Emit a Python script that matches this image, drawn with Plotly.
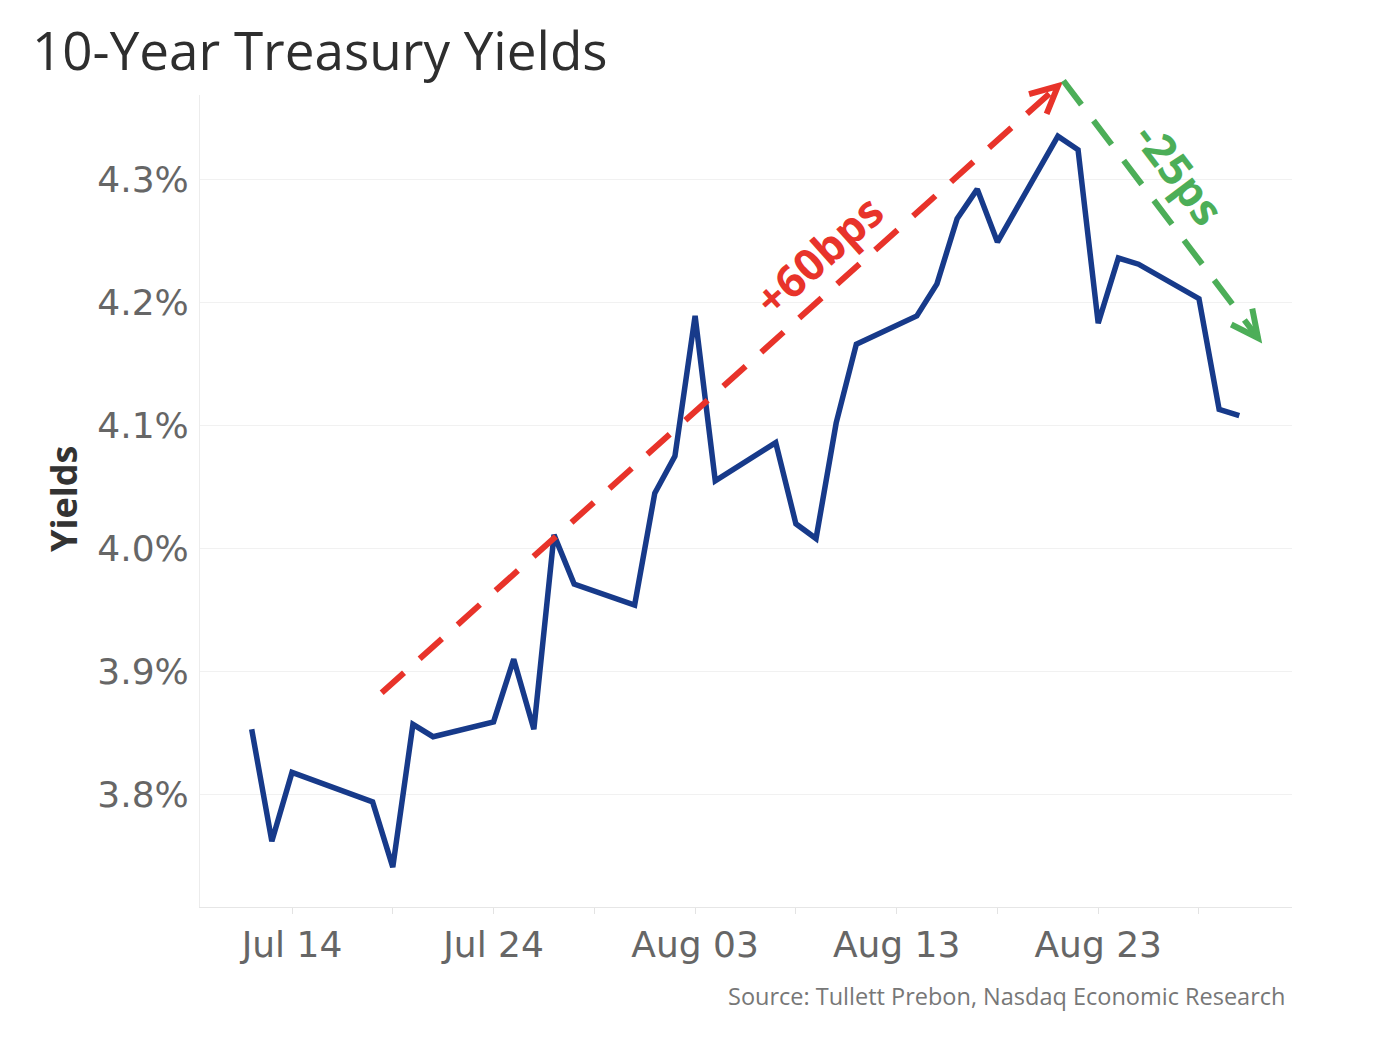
import math
import pandas as pd
import plotly.graph_objects as go

# ---------------- data ----------------
dates = ["2023-07-12", "2023-07-13", "2023-07-14", "2023-07-17", "2023-07-18", "2023-07-19",
         "2023-07-20", "2023-07-21", "2023-07-24", "2023-07-25", "2023-07-26", "2023-07-27",
         "2023-07-28", "2023-07-31", "2023-08-01", "2023-08-02", "2023-08-03", "2023-08-04",
         "2023-08-07", "2023-08-08", "2023-08-09", "2023-08-10", "2023-08-11", "2023-08-14",
         "2023-08-15", "2023-08-16", "2023-08-17", "2023-08-18", "2023-08-21", "2023-08-22",
         "2023-08-23", "2023-08-24", "2023-08-25", "2023-08-28", "2023-08-29", "2023-08-30"]
yields = [3.853, 3.762, 3.818, 3.800, 3.794, 3.741,
          3.857, 3.847, 3.859, 3.910, 3.853, 4.011,
          3.971, 3.954, 4.045, 4.075, 4.189, 4.055,
          4.086, 4.020, 4.008, 4.102, 4.166, 4.189,
          4.215, 4.268, 4.292, 4.249, 4.335, 4.324,
          4.183, 4.236, 4.231, 4.203, 4.113, 4.108]

x_tick_vals = ["2023-07-14", "2023-07-19", "2023-07-24", "2023-07-29", "2023-08-03",
               "2023-08-08", "2023-08-13", "2023-08-18", "2023-08-23", "2023-08-28"]
x_tick_text = ["Jul 14", "", "Jul 24", "", "Aug 03", "", "Aug 13", "", "Aug 23", ""]
y_tick_vals = [3.8, 3.9, 4.0, 4.1, 4.2, 4.3]
y_tick_text = ["3.8%", "3.9%", "4.0%", "4.1%", "4.2%", "4.3%"]

# annotation arrows (date, yield) start -> end
up_arrow = [("2023-07-18 10:48", 3.8827), ("2023-08-21 00:00", 4.3758)]
down_arrow = [("2023-08-21 06:30", 4.3801), ("2023-08-30 22:20", 4.171)]
up_label = ("+60bps", "2023-08-09 02:24", 4.2385)
down_label = ("-25ps", "2023-08-27 01:26", 4.3051)

# ---------------- layout geometry ----------------
W_FIG, H_FIG = 1390, 1054
ML, MR, MT, MB = 200, 98, 95, 147
PW, PH = W_FIG - ML - MR, H_FIG - MT - MB
X0, X1 = pd.Timestamp("2023-07-09 10:27"), pd.Timestamp("2023-09-01 14:46")
Y0, Y1 = 3.7086, 4.3685

RED = "#e8332a"
GREEN = "#4cae58"
BLUE = "#173a8a"


def to_px(d, v):
    t = pd.Timestamp(d)
    px = ML + (t - X0) / (X1 - X0) * PW
    py = MT + (Y1 - v) / (Y1 - Y0) * PH
    return px, py


def to_paper(px, py):
    return (px - ML) / PW, (MT + PH - py) / PH


fig = go.Figure()
fig.add_trace(go.Scatter(x=pd.to_datetime(dates), y=yields, mode="lines",
                         line=dict(color=BLUE, width=5.5), hoverinfo="skip"))

shapes = []
annotations = []


def add_arrow(arrow, color, dash):
    (d0, v0), (d1, v1) = arrow
    sx, sy = to_px(d0, v0)
    ex, ey = to_px(d1, v1)
    a, b = to_paper(sx, sy)
    c, d = to_paper(ex, ey)
    shapes.append(dict(type="line", xref="paper", yref="paper", x0=a, y0=b, x1=c, y1=d,
                       line=dict(color=color, width=6, dash=dash), layer="above"))
    ln = math.hypot(ex - sx, ey - sy)
    bx, by = (sx - ex) / ln, (sy - ey) / ln
    pts = []
    for ang in (26, -26):
        r = math.radians(ang)
        wx = bx * math.cos(r) - by * math.sin(r)
        wy = bx * math.sin(r) + by * math.cos(r)
        pts.append(to_paper(ex + 30 * wx, ey + 30 * wy))
    tip = to_paper(ex, ey)
    path = "M {:.5f} {:.5f} L {:.5f} {:.5f} L {:.5f} {:.5f}".format(
        pts[0][0], pts[0][1], tip[0], tip[1], pts[1][0], pts[1][1])
    shapes.append(dict(type="path", xref="paper", yref="paper", path=path,
                       line=dict(color=color, width=6), layer="above"))
    return math.degrees(math.atan2(ey - sy, ex - sx))


ang_up = add_arrow(up_arrow, RED, "30px,21px")
ang_dn = add_arrow(down_arrow, GREEN, "30px,20px")

for (txt, d, v), ang, col in ((up_label, ang_up, RED), (down_label, ang_dn, GREEN)):
    annotations.append(dict(text=txt, x=pd.Timestamp(d), y=v, xref="x", yref="y",
                            showarrow=False, textangle=ang, xanchor="center", yanchor="middle",
                            font=dict(family="Open Sans", size=44, color=col, weight="bold")))

annotations.append(dict(text="10-Year Treasury Yields", xref="paper", yref="paper",
                        x=(30 - ML) / PW, y=(MT + PH - 50) / PH, xanchor="left", yanchor="middle",
                        showarrow=False, font=dict(family="Open Sans", size=53, color="#2e2e2e")))
annotations.append(dict(text="Yields", xref="paper", yref="paper",
                        x=(64 - ML) / PW, y=(MT + PH - 499) / PH, xanchor="center", yanchor="middle",
                        textangle=-90, showarrow=False,
                        font=dict(family="Open Sans", size=36, color="#333333", weight="bold")))
annotations.append(dict(text="Source: Tullett Prebon, Nasdaq Economic Research", xref="paper",
                        yref="paper", x=(1287 - ML) / PW, y=(MT + PH - 996) / PH,
                        xanchor="right", yanchor="middle", showarrow=False,
                        font=dict(family="Open Sans", size=23.5, color="#777777")))

fig.update_layout(
    width=W_FIG, height=H_FIG,
    margin=dict(l=ML, r=MR, t=MT, b=MB),
    plot_bgcolor="white", paper_bgcolor="white",
    showlegend=False,
    shapes=shapes, annotations=annotations,
    xaxis=dict(range=[X0, X1], type="date", tickmode="array",
               tickvals=pd.to_datetime(x_tick_vals), ticktext=x_tick_text,
               ticks="outside", ticklen=6, tickcolor="#e3e3e3", tickwidth=1,
               showgrid=False, zeroline=False, showline=True, linecolor="#e6e6e6", linewidth=1,
               tickfont=dict(family="DejaVu Sans", size=36, color="#666666"),
               ticklabelstandoff=0, fixedrange=True),
    yaxis=dict(range=[Y0, Y1], tickmode="array", tickvals=y_tick_vals, ticktext=y_tick_text,
               showgrid=True, gridcolor="#f1f1f1", gridwidth=1,
               zeroline=False, showline=True, linecolor="#ececec", linewidth=1, ticks="",
               tickfont=dict(family="DejaVu Sans", size=36, color="#666666"),
               ticklabelstandoff=3, fixedrange=True),
)

fig.write_html("out.html", config={"displayModeBar": False},
               post_script="document.body.style.margin='0px';document.body.style.padding='0px';")
